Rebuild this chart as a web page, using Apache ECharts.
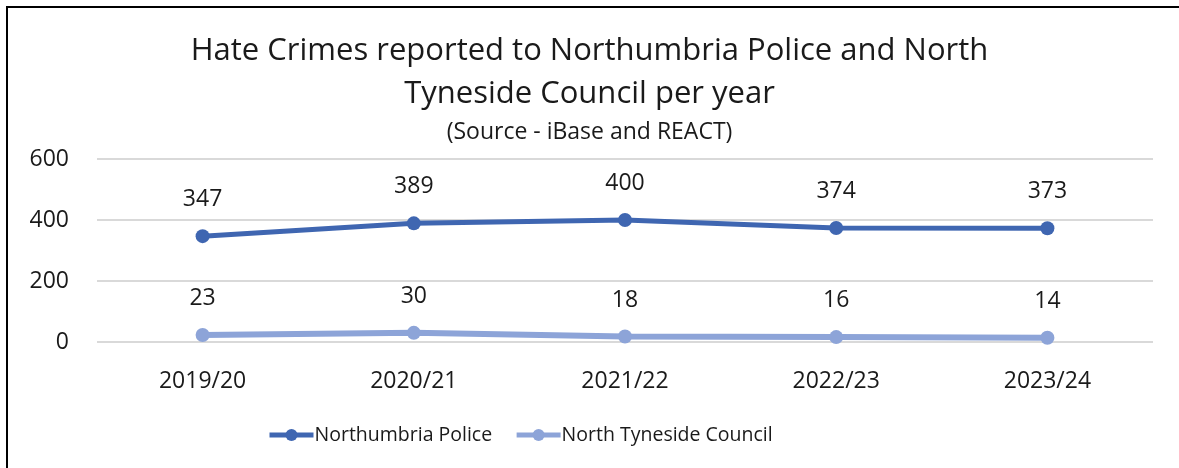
<!DOCTYPE html>
<html><head><meta charset="utf-8">
<script src="https://cdn.jsdelivr.net/npm/echarts@6/dist/echarts.min.js"></script>
<style>html,body{margin:0;padding:0;background:#fff}#c{width:1179px;height:468px}</style>
</head><body><div id="c"></div>
<script>
const categories = ['2019/20','2020/21','2021/22','2022/23','2023/24'];
const policeValues = [347, 389, 400, 374, 373];
const councilValues = [23, 30, 18, 16, 14];
const seriesNames = ['Northumbria Police','North Tyneside Council'];
const FONT = '"Open Sans", "Noto Sans", sans-serif';
const chart = echarts.init(document.getElementById('c'));
chart.setOption({
  animation:false,
  textStyle:{fontFamily:FONT},
  graphic:[{type:'rect',shape:{x:7,y:7,width:1190,height:480},style:{fill:'none',stroke:'#000',lineWidth:2},silent:true}],
  title:[{
    text:'Hate Crimes reported to Northumbria Police and North\nTyneside Council per year',
    left:'center', top:25,
    textStyle:{fontFamily:FONT,fontSize:31,fontWeight:'normal',color:'#1a1a1a',lineHeight:43}
  },{
    text:'(Source - iBase and REACT)', left:'center', top:116,
    textStyle:{fontFamily:FONT,fontSize:23,fontWeight:'normal',color:'#1a1a1a'}
  }],
  legend:{
    bottom:18, left:262, itemGap:22, itemWidth:44, itemHeight:15,
    lineStyle:{width:5},
    textStyle:{fontFamily:FONT,fontSize:19.5,color:'#1a1a1a',padding:[0,0,0,-4]},
    data:seriesNames
  },
  grid:{left:97,right:26,top:159,bottom:126,containLabel:false},
  xAxis:{type:'category',data:categories,boundaryGap:true,
    axisLine:{show:false},axisTick:{show:false},
    axisLabel:{fontFamily:FONT,fontSize:23,color:'#1a1a1a',margin:28}},
  yAxis:{type:'value',min:0,max:600,interval:200,
    axisLine:{show:false},axisTick:{show:false},
    axisLabel:{fontFamily:FONT,fontSize:23,color:'#1a1a1a',margin:28},
    splitLine:{lineStyle:{color:'#d9d9d9',width:2}}},
  series:[
    {name:seriesNames[0],type:'line',data:policeValues,symbol:'circle',symbolSize:14,
     lineStyle:{color:'#3f66b1',width:5},itemStyle:{color:'#3f66b1'},
     label:{show:true,position:'top',distance:18,fontFamily:FONT,fontSize:23,color:'#1a1a1a'}},
    {name:seriesNames[1],type:'line',data:councilValues,symbol:'circle',symbolSize:14,
     lineStyle:{color:'#8da4d8',width:6},itemStyle:{color:'#8da4d8'},
     label:{show:true,position:'top',distance:18,fontFamily:FONT,fontSize:23,color:'#1a1a1a'}}
  ]
});
</script></body></html>
